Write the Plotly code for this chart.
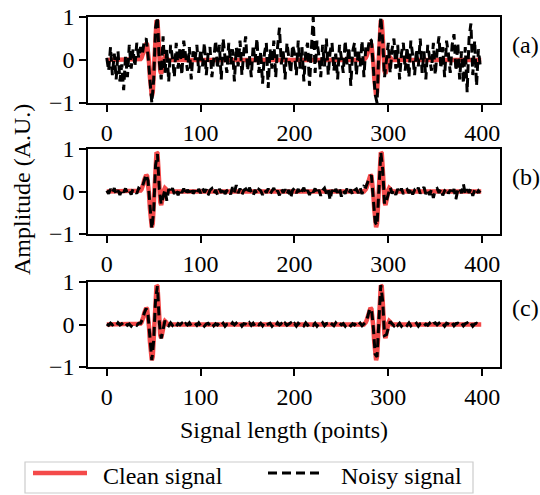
import plotly.graph_objects as go
from plotly.subplots import make_subplots

# ---------------- data ----------------
# Clean signal: zero everywhere except two wavelet bursts
burst1_idx = list(range(35, 66))
burst1_val = [0.00, 0.02, 0.05, 0.10, 0.18, 0.27, 0.35, 0.39, 0.36, 0.22,
              -0.05, -0.40, -0.70, -0.84, -0.75, -0.40, 0.10, 0.60, 0.92, 0.90,
              0.55, 0.05, -0.25, -0.32, -0.25, -0.10, 0.03, 0.08, 0.06, 0.02, 0.00]
burst2_idx = list(range(274, 305))
burst2_val = [0.00, 0.02, 0.05, 0.10, 0.18, 0.27, 0.35, 0.39, 0.36, 0.22,
              -0.05, -0.40, -0.70, -0.84, -0.75, -0.40, 0.10, 0.60, 0.92, 0.90,
              0.55, 0.05, -0.25, -0.32, -0.25, -0.10, 0.03, 0.08, 0.06, 0.02, 0.00]
clean_x = [0] + burst1_idx + burst2_idx + [399]
clean_y = [0.0] + burst1_val + burst2_val + [0.0]

# Noisy signals sampled every 2 points (0, 2, ..., 398)
noisy_x = list(range(0, 400, 2))
noisy_a = [
    0.05, -0.25, 0.30, -0.35, 0.15, -0.45, 0.20, -0.50, -0.10, -0.70,
    0.10, -0.40, 0.35, -0.20, 0.25, -0.15, 0.40, 0.05, 0.30, 0.15,
    0.45, 0.50, 0.10, -0.55, -1.00, -0.45, 0.75, 1.00, -0.05, -0.45,
    0.55, -0.30, 0.25, -0.50, 0.35, 0.05, -0.40, 0.40, -0.20, 0.30,
    -0.35, 0.45, 0.10, -0.25, 0.30, -0.45, 0.20, 0.00, 0.35, -0.30,
    0.25, -0.15, 0.40, -0.35, 0.15, 0.30, -0.40, 0.10, 0.45, -0.20,
    0.35, -0.45, 0.50, 0.05, -0.30, 0.40, -0.10, 0.25, -0.50, 0.30,
    -0.15, 0.45, -0.35, 0.20, 0.55, -0.25, 0.10, -0.40, 0.35, -0.05,
    0.50, -0.30, 0.20, -0.55, 0.15, 0.40, -0.65, 0.25, -0.20, 0.45,
    -0.40, 0.30, 0.75, -0.10, 0.20, -0.45, 0.40, 0.05, -0.30, 0.35,
    0.15, -0.35, 0.45, -0.20, 0.30, -0.50, 0.20, 0.40, -0.60, 0.25,
    1.00, -0.30, 0.45, 0.10, -0.40, 0.35, -0.15, 0.50, -0.35, 0.20,
    0.40, -0.25, 0.15, -0.45, 0.35, 0.05, -0.30, 0.45, -0.10, 0.30,
    -0.60, 0.20, 0.40, -0.35, 0.25, -0.15, 0.45, -0.40, 0.30, 0.20,
    0.50, 0.45, -0.20, -0.80, -1.00, 0.30, 1.00, 0.45, -0.40, -0.05,
    0.40, -0.30, 0.25, 0.50, -0.20, 0.35, -0.45, 0.15, 0.40, -0.25,
    0.30, -0.40, 0.45, 0.10, -0.35, 0.25, -0.15, 0.50, -0.30, 0.20,
    -0.45, 0.35, 0.05, -0.25, 0.40, -0.35, 0.20, 0.55, -0.20, 0.30,
    -0.40, 0.45, 0.15, -0.30, 0.35, 0.60, -0.25, 0.40, -0.45, 0.20,
    -0.55, 0.30, -0.75, 0.50, 0.85, -0.35, 0.45, -0.60, 0.25, -0.15,
]
noisy_b = [
    0.02, -0.05, 0.06, -0.03, 0.08, -0.06, 0.03, -0.08, 0.05, -0.02,
    0.07, -0.04, 0.02, -0.07, 0.06, 0.01, -0.05, 0.08, 0.05, 0.12,
    0.25, 0.40, 0.25, -0.40, -0.88, -0.45, 0.62, 0.88, 0.05, -0.30,
    -0.15, 0.05, -0.22, 0.06, -0.04, 0.08, -0.06, 0.03, -0.09, 0.05,
    -0.03, 0.07, -0.08, 0.04, -0.02, 0.09, -0.05, 0.02, -0.07, 0.06,
    -0.04, 0.08, -0.02, 0.05, -0.09, 0.03, 0.07, -0.05, 0.04, -0.08,
    0.06, -0.03, 0.09, -0.06, 0.02, 0.05, -0.07, 0.10, -0.02, 0.15,
    -0.04, 0.07, -0.08, 0.03, 0.06, -0.05, 0.09, -0.03, -0.10, 0.04,
    -0.06, 0.05, 0.02, -0.08, 0.04, -0.03, 0.07, -0.06, 0.03, 0.08,
    -0.05, 0.02, -0.09, 0.06, -0.03, 0.05, -0.07, 0.04, -0.15, 0.03,
    0.08, -0.04, 0.06, -0.07, 0.02, 0.09, -0.05, 0.03, -0.08, 0.05,
    -0.02, 0.07, -0.06, 0.04, -0.10, 0.03, 0.08, -0.05, 0.05, -0.20,
    0.04, -0.07, 0.06, -0.03, 0.08, -0.12, 0.02, -0.05, 0.07, -0.04,
    0.05, -0.08, 0.03, 0.06, -0.04, 0.09, -0.06, 0.12, 0.10, 0.22,
    0.33, 0.38, -0.08, -0.72, -0.80, 0.12, 0.92, 0.52, -0.30, -0.22,
    -0.02, 0.10, -0.05, 0.04, -0.08, 0.06, -0.03, 0.07, -0.06, 0.02,
    0.05, -0.04, 0.08, -0.07, 0.03, -0.02, 0.09, -0.05, 0.04, 0.10,
    -0.06, 0.03, -0.08, 0.05, -0.15, 0.04, 0.07, -0.03, 0.06, -0.09,
    0.02, 0.08, -0.05, 0.04, -0.07, 0.06, -0.18, 0.03, 0.09, -0.04,
    0.18, -0.06, 0.05, -0.03, 0.07, -0.10, 0.04, -0.05, 0.02, -0.03,
]
noisy_c = [
    0.01, -0.02, 0.03, -0.01, 0.02, -0.03, 0.04, -0.01, 0.02, -0.03,
    0.03, -0.02, 0.01, -0.04, 0.02, 0.01, -0.02, 0.03, 0.03, 0.12,
    0.27, 0.38, 0.22, -0.42, -0.84, -0.38, 0.60, 0.90, 0.04, -0.33,
    -0.08, 0.09, 0.01, -0.03, 0.04, -0.02, 0.03, -0.04, 0.02, -0.01,
    0.03, -0.04, 0.02, -0.01, 0.04, -0.03, 0.01, 0.03, -0.02, 0.04,
    -0.03, 0.02, -0.04, 0.01, 0.03, -0.02, 0.04, -0.03, 0.02, -0.01,
    0.04, -0.02, 0.03, -0.04, 0.01, 0.02, -0.03, 0.04, -0.01, 0.03,
    -0.02, 0.03, -0.04, 0.02, 0.01, -0.03, 0.04, -0.02, 0.03, -0.04,
    0.02, -0.01, 0.03, -0.03, 0.04, -0.02, 0.01, 0.03, -0.04, 0.02,
    -0.03, 0.04, -0.01, 0.02, -0.04, 0.03, -0.02, 0.01, 0.04, -0.03,
    0.02, -0.04, 0.03, -0.01, 0.02, -0.03, 0.04, -0.02, 0.01, 0.03,
    -0.02, 0.03, -0.04, 0.02, -0.01, 0.04, -0.03, 0.02, 0.03, -0.04,
    0.01, -0.03, 0.04, -0.02, 0.03, -0.01, 0.02, -0.04, 0.03, 0.01,
    -0.03, 0.02, -0.01, 0.04, -0.02, 0.03, -0.03, 0.02, 0.06, 0.18,
    0.36, 0.37, -0.06, -0.70, -0.76, 0.11, 0.93, 0.55, -0.26, -0.24,
    -0.07, 0.07, 0.02, -0.03, 0.04, -0.02, 0.03, -0.04, 0.01, 0.03,
    -0.02, 0.04, -0.03, 0.02, -0.01, 0.03, -0.04, 0.02, 0.04, -0.03,
    0.01, -0.02, 0.03, -0.04, 0.02, 0.04, -0.01, 0.03, -0.03, 0.02,
    -0.04, 0.03, 0.01, -0.02, 0.04, -0.03, 0.02, 0.03, -0.01, 0.04,
    -0.03, 0.02, 0.04, -0.02, 0.03, -0.04, 0.01, 0.03, -0.02, 0.02,
]
noisy_series = [noisy_a, noisy_b, noisy_c]
panel_labels = ["(a)", "(b)", "(c)"]
x_ticks = [0, 100, 200, 300, 400]
y_ticks = [-1, 0, 1]
series_names = ["Clean signal", "Noisy signal"]

# ---------------- style ----------------
FONT = "Liberation Serif, Times New Roman, serif"
RED = "#f44a4a"
W, H = 540, 495
PLOT_L, PLOT_R, PLOT_T, PLOT_B = 88, 500, 17, 367   # plot area in pixels
ML, MR, MT, MB = PLOT_L, W - PLOT_R, PLOT_T, H - PLOT_B
PW, PH = W - ML - MR, H - MT - MB


def px(x):
    return (x - PLOT_L) / PW


def py(y):
    return (PLOT_B - y) / PH


fig = make_subplots(rows=3, cols=1)
for i, ny in enumerate(noisy_series):
    r = i + 1
    fig.add_trace(go.Scatter(x=clean_x, y=clean_y, mode="lines",
                             line=dict(color=RED, width=4.5),
                             name=series_names[0], showlegend=False), row=r, col=1)
    fig.add_trace(go.Scatter(x=noisy_x, y=ny, mode="lines",
                             line=dict(color="black", width=3, dash="9px,5px"),
                             name=series_names[1], showlegend=False), row=r, col=1)

domains = [[py(103), 1.0], [py(234), py(149)], [0.0, py(282)]]
axis_common = dict(showline=True, linecolor="black", linewidth=1.5, mirror=True,
                   ticks="outside", ticklen=7, tickwidth=1.5, tickcolor="black",
                   showgrid=False, zeroline=False, automargin=False,
                   ticklabeloverflow="allow",
                   tickfont=dict(family=FONT, size=24, color="black"))
for i in range(3):
    sfx = "" if i == 0 else str(i + 1)
    fig.layout["xaxis" + sfx].update(range=[-20, 419], tickvals=x_ticks,
                                     domain=[0, 1], **axis_common)
    fig.layout["yaxis" + sfx].update(range=[-1, 1], tickvals=y_ticks,
                                     domain=domains[i], **axis_common)

ann = []
label_y = [45, 177, 308]
for lab, yy in zip(panel_labels, label_y):
    ann.append(dict(text=lab, x=px(510), y=py(yy), xref="paper", yref="paper",
                    xanchor="left", yanchor="middle", showarrow=False,
                    font=dict(family=FONT, size=24, color="black")))
ann.append(dict(text="Amplitude (A.U.)", x=px(22), y=py(190), xref="paper", yref="paper",
                xanchor="center", yanchor="middle", textangle=-90, showarrow=False,
                font=dict(family=FONT, size=24, color="black")))
ann.append(dict(text="Signal length (points)", x=px(284), y=py(430), xref="paper",
                yref="paper", xanchor="center", yanchor="middle", showarrow=False,
                font=dict(family=FONT, size=24, color="black")))
# legend entries
ann.append(dict(text=series_names[0], x=px(101), y=py(476), xref="paper", yref="paper",
                xanchor="left", yanchor="middle", showarrow=False,
                font=dict(family=FONT, size=24, color="black")))
ann.append(dict(text=series_names[1], x=px(339), y=py(476), xref="paper", yref="paper",
                xanchor="left", yanchor="middle", showarrow=False,
                font=dict(family=FONT, size=24, color="black")))

shapes = [
    dict(type="rect", xref="paper", yref="paper", x0=px(25), x1=px(473),
         y0=py(493), y1=py(462), line=dict(color="#cccccc", width=1.2),
         fillcolor="white", layer="below"),
    dict(type="line", xref="paper", yref="paper", x0=px(33), x1=px(87),
         y0=py(473), y1=py(473), line=dict(color=RED, width=4.5)),
    dict(type="line", xref="paper", yref="paper", x0=px(268), x1=px(322),
         y0=py(473), y1=py(473), line=dict(color="black", width=3, dash="9px,5px")),
]

fig.update_layout(width=W, height=H, margin=dict(l=ML, r=MR, t=MT, b=MB),
                  plot_bgcolor="white", paper_bgcolor="white",
                  showlegend=False, annotations=ann, shapes=shapes,
                  font=dict(family=FONT, size=24, color="black"))
fig.write_html(
    "out.html",
    config={"displayModeBar": False},
    post_script="document.body.style.margin='0';"
                "document.body.style.overflow='hidden';",
)
